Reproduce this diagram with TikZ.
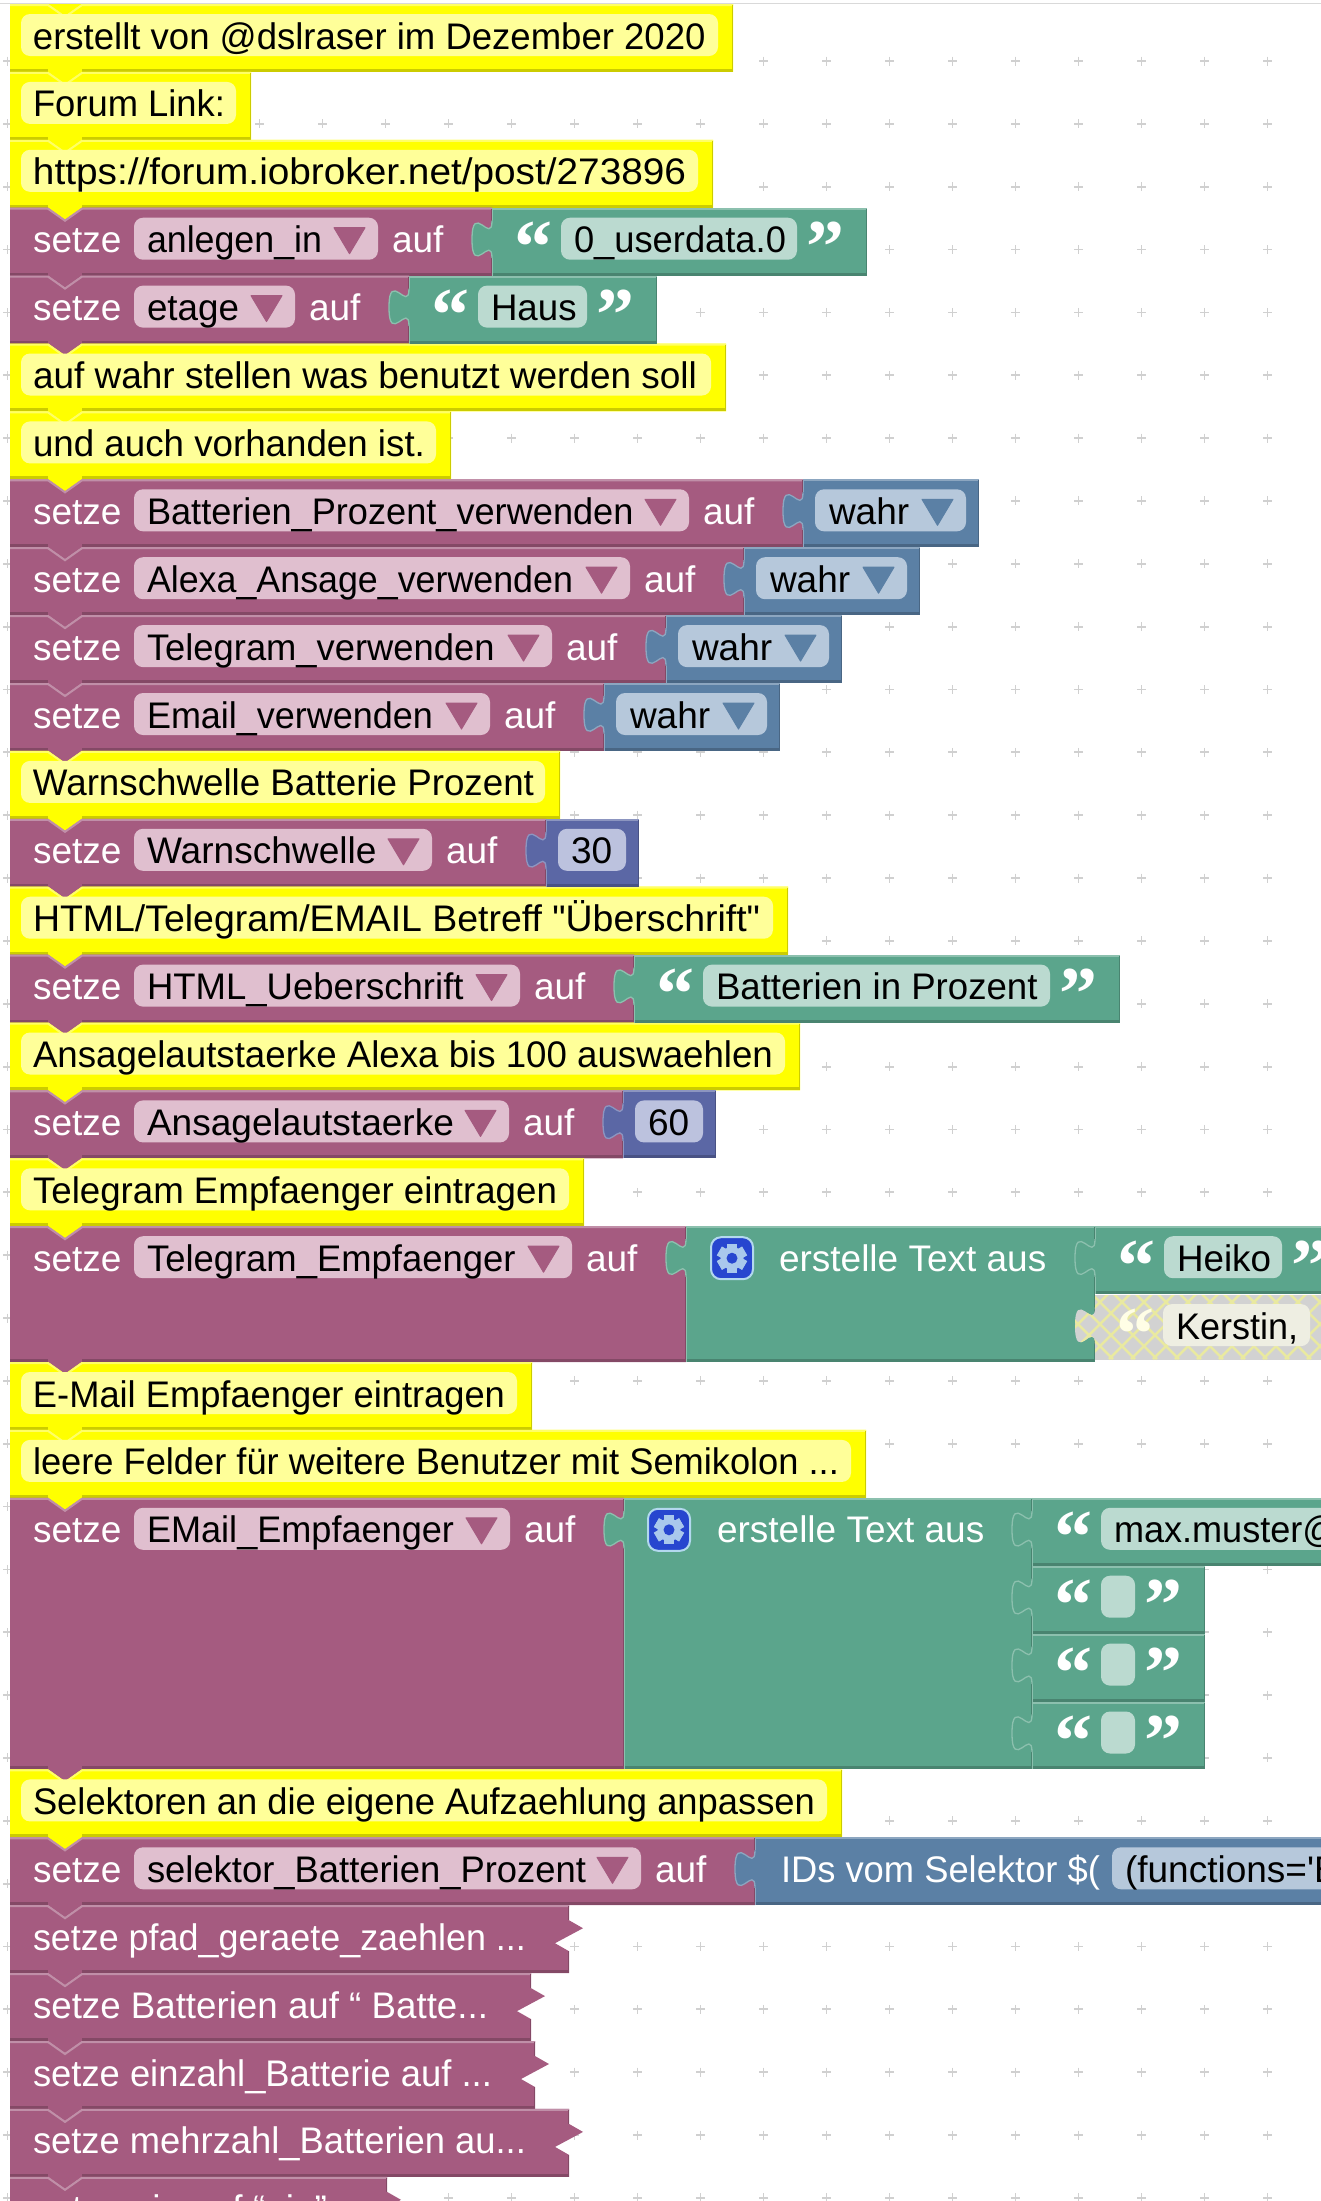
\documentclass[tikz,border=0pt]{standalone}
\usepackage{graphicx}
\usepackage{fontspec}
\setmainfont{Liberation Sans}
\newfontfamily\plainf{Liberation Sans}
\newfontfamily\qf{Liberation Serif}[BoldFont=Liberation Serif Bold]
\definecolor{pM}{HTML}{A55B80}\definecolor{pL}{HTML}{C08FA8}\definecolor{pD}{HTML}{844966}\definecolor{pF}{HTML}{E0BFCF}
\definecolor{gM}{HTML}{5BA58C}\definecolor{gL}{HTML}{8CC0AE}\definecolor{gD}{HTML}{498470}\definecolor{gF}{HTML}{BBDAD0}
\definecolor{bM}{HTML}{5B80A5}\definecolor{bL}{HTML}{8CA6C0}\definecolor{bD}{HTML}{496684}\definecolor{bF}{HTML}{B6C8DB}
\definecolor{nM}{HTML}{5B67A5}\definecolor{nL}{HTML}{8C95C0}\definecolor{nD}{HTML}{495284}\definecolor{nF}{HTML}{BCC2DE}
\definecolor{yM}{HTML}{FFFF00}\definecolor{yL}{HTML}{FFFF66}\definecolor{yD}{HTML}{CCCC00}\definecolor{yF}{HTML}{FFFF99}
\definecolor{gearbg}{HTML}{2746CF}\definecolor{gearln}{HTML}{B3D8EE}\definecolor{gearfg}{HTML}{A9C8EC}
\definecolor{hatchbg}{HTML}{D2D2D2}\definecolor{hatchln}{HTML}{E9E9A0}\definecolor{hatchpill}{HTML}{EEEEE2}
\definecolor{dotc}{HTML}{D0D0D0}
\tikzset{
  lab/.style={anchor=base west,inner sep=0pt,outer sep=0pt,font=\plainf\fontsize{37}{40}\selectfont},
  qt/.style={anchor=base,inner sep=0pt,outer sep=0pt,text=white,font=\qf\bfseries\fontsize{76}{80}\selectfont},
  hi/.style={line width=2pt},
  lo/.style={line width=3pt},
  pilbox/.style={rounded corners=9pt}
}
\newcounter{nn}
\newcommand\fitw[2]{\resizebox{#1pt}{\height}{#2}}
\newcommand\sr[1]{\pgfmathsetmacro\T{4+67.9*#1}}
\newcommand\lbl[3]{\stepcounter{nn}\node[lab,text=#2] (t\thenn) at (#1,\T+45) {#3};}
\newcommand\qL[1]{\stepcounter{nn}\node[qt] (t\thenn) at (#1,\T+65) {“};}
\newcommand\qR[1]{\stepcounter{nn}\node[qt] (t\thenn) at (#1,\T+65) {”};}
% statement block: family, row, nrows, right
\newcommand\stmt[4]{\sr{#2}\pgfmathsetmacro\BB{\T+67.9*#3}
  \fill[#1M] (10,\T)--(48,\T)--(65,\T+12)--(82,\T)--(#4,\T)--(#4,\BB)--(82,\BB)--(65,\BB+12)--(48,\BB)--(10,\BB)--cycle;
  \draw[#1L,hi] (10,\T+1)--(48,\T+1)--(65,\T+13)--(82,\T+1)--(#4,\T+1);
  \draw[#1D,lo] (10,\BB-1.5)--(48,\BB-1.5) (82,\BB-1.5)--(#4,\BB-1.5);
  \draw[#1D,line width=1.5pt] (#4-.7,\T+1)--(#4-.7,\BB);}
% puzzle tab at x,y
\newcommand\ptab[3]{\begin{scope}[shift={(#1,#2)}]
  \fill[#3M] (0,0) .. controls (0,25) and (-20,-20) .. (-20,18.75) .. controls (-20,57.5) and (0,12.5) .. (0,37.5) -- (3,37.5) -- (3,0) -- cycle;
  \draw[#3L,line width=1.3pt] (0,0) .. controls (0,25) and (-20,-20) .. (-20,18.75) .. controls (-20,57.5) and (0,12.5) .. (0,37.5);
  \end{scope}}
% value block: family,row,nrows,L,R
\newcommand\val[5]{\sr{#2}\pgfmathsetmacro\BB{\T+67.9*#3}
  \fill[#1M] (#4,\T) rectangle (#5,\BB-.5);
  \draw[#1L,hi] (#4,\T+1)--(#5,\T+1);
  \draw[#1D,lo] (#4,\BB-1.5)--(#5,\BB-1.5);
  \draw[#1D,line width=1.5pt] (#5-.7,\T+1)--(#5-.7,\BB);
  \draw[#1L,line width=1.5pt] (#4+.5,\T)--(#4+.5,\T+13) (#4+.5,\T+50)--(#4+.5,\BB);
  \ptab{#4}{\T+13}{#1}}
\newcommand\pill[4]{\fill[#4,pilbox] (#1,\T+10) rectangle (#2,\T+52);}
\newcommand\dd[2]{\fill[#2,line join=round,draw=#2,line width=1pt] (#1-44,\T+20)--(#1-13,\T+20)--(#1-28.5,\T+46)--cycle;}
% comment
\newcommand\cmt[3]{\stmt{y}{#1}{1}{#2}\pill{21}{#2-15}{x}{yF}\lbl{33}{black}{#3}}
% setze VAR auf
\newcommand\var[4]{\stmt{p}{#1}{#2}{#3+114}\lbl{33}{white}{setze}\pill{134}{#3}{x}{pF}\lbl{147}{black}{#4}\dd{#3}{pM}\lbl{#3+14}{white}{auf}}
\newcommand\wahr[2]{\val{b}{#1}{1}{#2}{#2+176}\pill{#2+12}{#2+163}{x}{bF}\lbl{#2+26}{black}{wahr}\dd{#2+163}{bM}}
\newcommand\numv[3]{\val{n}{#1}{1}{#2}{#2+93}\pill{#2+12}{#2+80}{x}{nF}\lbl{#2+25}{black}{#3}}
\newcommand\strv[4]{\val{g}{#1}{1}{#2}{#3+70}\qL{#2+41}\pill{#2+69}{#3}{x}{gF}\lbl{#2+82}{black}{#4}\qR{#3+28}}
\newcommand\coll[3]{\sr{#1}\pgfmathsetmacro\BB{\T+67.9}
  \fill[pM] (10,\T)--(48,\T)--(65,\T+12)--(82,\T)--(#2,\T)--(#2,\T+15)--(#2+14,\T+23)--(#2-14,\T+38)--(#2,\T+46)--(#2,\BB)--(82,\BB)--(65,\BB+12)--(48,\BB)--(10,\BB)--cycle;
  \draw[pL,hi] (10,\T+1)--(48,\T+1)--(65,\T+13)--(82,\T+1)--(#2,\T+1);
  \draw[pD,lo] (10,\BB-1.5)--(48,\BB-1.5) (82,\BB-1.5)--(#2,\BB-1.5);
  \draw[pD,line width=1.5pt] (#2-.7,\T+1)--(#2-.7,\T+15) (#2-.7,\T+46)--(#2-.7,\BB);
  \lbl{33}{white}{#3}}
\newcommand\gear[2]{\begin{scope}[shift={(#1,#2)}]
  \draw[gearln,line width=2pt,fill=gearbg,rounded corners=10pt] (-21,-21) rectangle (21,21);
  \foreach \a in {0,60,...,300}{\fill[gearfg,rotate=\a] (-5,-14.5) rectangle (5,14.5);}
  \fill[gearfg] (0,0) circle (11.5);
  \fill[gearbg] (0,0) circle (5.5);
  \end{scope}}

\begin{document}
\begin{tikzpicture}[x=1pt,y=-1pt]
\useasboundingbox (0,0) rectangle (1321,2201);
\fill[white] (0,0) rectangle (1321,2201);
\clip (0,0) rectangle (1321,2201);
% workspace grid
\foreach \i in {0,...,20}{\foreach \j in {0,...,34}{
  \pgfmathsetmacro\gx{7.5+63*\i}\pgfmathsetmacro\gy{61+62.85*\j}
  \draw[dotc,line width=1.8pt] (\gx-4.5,\gy)--(\gx+4.5,\gy) (\gx,\gy-4.5)--(\gx,\gy+4.5);}}
\draw[gray!30,line width=1.5pt] (0,3.5)--(1321,3.5);
\fill[yM] (48,4)--(65,16)--(82,4)--cycle;
% comments and variable blocks
\cmt{0}{733}{\fitw{672.5}{erstellt von @dslraser im Dezember 2020}}
\cmt{1}{251}{\fitw{192}{Forum Link:}}
\cmt{2}{713}{\fitw{653}{https://forum.iobroker.net/post/273896}}
\var{3}{1}{378}{\fitw{175}{anlegen\_in}}
\var{4}{1}{295}{\fitw{92}{etage}}
\cmt{5}{726}{\fitw{664}{auf wahr stellen was benutzt werden soll}}
\cmt{6}{451}{\fitw{392}{und auch vorhanden ist.}}
\var{7}{1}{689}{\fitw{486.5}{Batterien\_Prozent\_verwenden}}
\var{8}{1}{630}{\fitw{426}{Alexa\_Ansage\_verwenden}}
\var{9}{1}{552}{\fitw{347.5}{Telegram\_verwenden}}
\var{10}{1}{490}{\fitw{286}{Email\_verwenden}}
\cmt{11}{560}{\fitw{501}{Warnschwelle Batterie Prozent}}
\var{12}{1}{432}{\fitw{229.5}{Warnschwelle}}
\cmt{13}{788}{\fitw{727}{HTML/Telegram/EMAIL Betreff "Überschrift"}}
\var{14}{1}{520}{\fitw{316.6}{HTML\_Ueberschrift}}
\cmt{15}{800}{\fitw{740}{Ansagelautstaerke Alexa bis 100 auswaehlen}}
\var{16}{1}{509}{\fitw{307}{Ansagelautstaerke}}
\cmt{17}{584}{\fitw{524}{Telegram Empfaenger eintragen}}
\var{18}{2}{572}{\fitw{368.5}{Telegram\_Empfaenger}}
\cmt{20}{532}{\fitw{472}{E-Mail Empfaenger eintragen}}
\cmt{21}{866}{\fitw{806}{leere Felder für weitere Benutzer mit Semikolon ...}}
\var{22}{4}{510}{\fitw{307}{EMail\_Empfaenger}}
\cmt{26}{842}{\fitw{782}{Selektoren an die eigene Aufzaehlung anpassen}}
\var{27}{1}{641}{\fitw{439}{selektor\_Batterien\_Prozent}}
\coll{28}{569}{\fitw{493}{setze pfad\_geraete\_zaehlen ...}}
\coll{29}{531}{\fitw{455}{setze Batterien auf “ Batte...}}
\coll{30}{535}{\fitw{459}{setze einzahl\_Batterie auf ...}}
\coll{31}{569}{\fitw{493}{setze mehrzahl\_Batterien au...}}
\coll{32}{387}{setze ein auf “ein”...}
% values
\strv{3}{492}{797}{\fitw{212}{0\_userdata.0}}
\strv{4}{409}{587}{\fitw{85.6}{Haus}}
\wahr{7}{803}
\wahr{8}{744}
\wahr{9}{666}
\wahr{10}{604}
\numv{12}{546}{30}
\strv{14}{634}{1050}{\fitw{321.5}{Batterien in Prozent}}
\numv{16}{623}{60}
% Telegram receivers
\val{g}{18}{2}{686}{1095}
\gear{732}{\T+32}
\lbl{779}{white}{erstelle Text aus}
\strv{18}{1095}{1282}{\fitw{94}{Heiko}}
\sr{19}
\begin{scope}[shift={(1095,\T)}]
  \clip (0,1) rectangle (226,66)
        (0,13) .. controls (0,38) and (-20,-7) .. (-20,31.75) .. controls (-20,70.5) and (0,25.5) .. (0,50.5) -- cycle;
  \fill[hatchbg] (-25,0) rectangle (226,66);
  \foreach \h in {-2,...,15}{\draw[hatchln,line width=2.6pt] (-30+22*\h,-5) -- ++(70,70) (-30+22*\h,65) -- ++(70,-70);}
\end{scope}
\fill[hatchpill,pilbox] (1163,\T+10) rectangle (1310,\T+52);
\lbl{1176}{black}{\fitw{122}{Kerstin,}}
\stepcounter{nn}\node[qt,text=white!90!yellow] (t\thenn) at (1135,\T+65) {“};
% E-mail receivers
\val{g}{22}{4}{624}{1032}
\gear{669}{\T+32}
\lbl{717}{white}{erstelle Text aus}
\strv{22}{1032}{1400}{\scalebox{.975}[1]{max.muster@}}
\strv{23}{1032}{1135}{}
\strv{24}{1032}{1135}{}
\strv{25}{1032}{1135}{}
% selector
\val{b}{27}{1}{755}{1340}
\lbl{781}{white}{\fitw{319}{IDs vom Selektor \$(}}
\pill{1112}{1345}{x}{bF}
\lbl{1125}{black}{(functions='B}
\end{tikzpicture}
\end{document}
